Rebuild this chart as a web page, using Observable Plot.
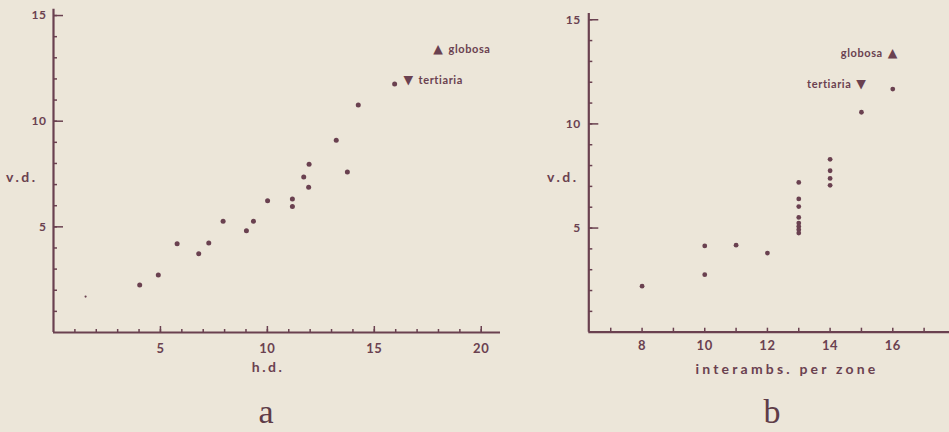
<!DOCTYPE html>
<html>
<head>
<meta charset="utf-8">
<script src="https://cdn.jsdelivr.net/npm/d3@7"></script>
<script src="https://cdn.jsdelivr.net/npm/@observablehq/plot@0.6"></script>
<style>
  html, body { margin: 0; padding: 0; background: #ece6d9; }
  #wrap { position: relative; width: 949px; height: 432px; overflow: hidden; background: #ece6d9; }
  .panel { position: absolute; top: 0; }
  .lab { position: absolute; color: #6a4150; font-family: Lato, "DejaVu Sans", sans-serif; font-weight: 700; white-space: nowrap; }
  .plab { position: absolute; color: #5e3c48; font-family: "Liberation Serif", "DejaVu Serif", serif; font-size: 34px; line-height: 1; }
</style>
</head>
<body>
<div id="wrap">
  <div id="pa" class="panel" style="left:0px"></div>
  <div id="pb" class="panel" style="left:500px"></div>
  <div class="lab" style="left:6px; top:168px; font-size:14px; letter-spacing:2.5px;">v.d.</div>
  <div class="lab" style="left:547px; top:168px; font-size:14px; letter-spacing:2.5px;">v.d.</div>
  <div class="lab" style="left:268px; top:358px; font-size:14px; letter-spacing:2.5px; transform:translateX(-50%);">h.d.</div>
  <div class="lab" style="left:787px; top:360px; font-size:14px; letter-spacing:3.2px; transform:translateX(-50%);">interambs. per zone</div>
  <div class="plab" style="left:266px; top:395px; transform:translateX(-50%);">a</div>
  <div class="plab" style="left:772px; top:395px; transform:translateX(-50%);">b</div>
</div>
<script>
// ---- data ----
// panel a: horizontal diameter (h.d.) vs vertical diameter (v.d.)
const hdA = [1.5, 4.03, 4.9, 5.78, 6.79, 7.26, 7.93, 9.02, 9.35, 10.01, 11.17, 11.17, 11.7, 11.95, 11.93, 13.22, 13.74, 14.25, 15.95];
const vdA = [1.7, 2.25, 2.72, 4.2, 3.73, 4.23, 5.27, 4.81, 5.27, 6.23, 6.32, 5.96, 7.36, 7.96, 6.87, 9.1, 7.59, 10.77, 11.76];
const smallA = [true, false, false, false, false, false, false, false, false, false, false, false, false, false, false, false, false, false, false];
// panel b: interambulacra per zone vs v.d.
const interB = [8, 10, 10, 11, 12, 13, 13, 13, 13, 13, 13, 13, 13, 14, 14, 14, 14, 15, 16];
const vdB = [2.21, 4.14, 2.76, 4.18, 3.8, 7.19, 6.4, 6.03, 5.51, 5.24, 5.08, 4.92, 4.76, 8.3, 7.75, 7.38, 7.05, 10.56, 11.67];
// named species
const speciesNames = ["globosa", "tertiaria"];
const speciesGlyph = ["▲", "▼"];
const speciesHd = [18.0, 16.6];
const speciesVdA = [13.4, 11.93];
const speciesInter = [16, 15];
const speciesVdB = [13.38, 11.9];
// ticks
const xTicksA = [5, 10, 15, 20];
const yTicks = [5, 10, 15];
const xTicksB = [8, 10, 12, 14, 16];

const ink = "#6a4150";
const font = "Lato, 'DejaVu Sans', sans-serif";

const ptsA = hdA.map((x, i) => ({x, y: vdA[i], small: smallA[i]}));
const ptsB = interB.map((x, i) => ({x, y: vdB[i]}));
const spA = speciesNames.map((n, i) => ({name: n, glyph: speciesGlyph[i], x: speciesHd[i], y: speciesVdA[i]}));
const spB = speciesNames.map((n, i) => ({name: n, glyph: speciesGlyph[i], x: speciesInter[i], y: speciesVdB[i]}));

const common = {
  style: {background: "transparent", color: ink, fontFamily: font, fontWeight: 700, fontSize: "12px", overflow: "visible"}
};

const plotA = Plot.plot({
  ...common,
  width: 500, height: 432,
  marginLeft: 53, marginRight: 0, marginTop: 8.7, marginBottom: 100,
  x: {domain: [0, 20.9]},
  y: {domain: [0, 15.3]},
  marks: [
    Plot.axisY({ticks: d3.range(1, 16), tickSize: -4, text: null, label: null, stroke: ink, strokeWidth: 1.5}),
    Plot.axisY({ticks: yTicks, tickSize: -10, tickPadding: 17, stroke: ink, strokeWidth: 1.5, fill: ink, label: null, fontSize: 12}),
    Plot.axisX({ticks: d3.range(1, 21), tickSize: -3, text: null, label: null, stroke: ink, strokeWidth: 1.5}),
    Plot.axisX({ticks: xTicksA, tickSize: -6, tickPadding: 17, stroke: ink, strokeWidth: 1.5, fill: ink, label: null, fontSize: 13}),
    Plot.ruleX([0], {stroke: ink, strokeWidth: 2.2}),
    Plot.ruleY([0], {stroke: ink, strokeWidth: 2.2}),
    Plot.dot(ptsA, {filter: (d) => !d.small, x: "x", y: "y", r: 2.5, fill: ink, stroke: null}),
    Plot.dot(ptsA, {filter: (d) => d.small, x: "x", y: "y", r: 1.1, fill: ink, stroke: null}),
    Plot.text(spA, {x: "x", y: "y", text: "glyph", fill: ink, fontSize: 12.5, fontFamily: "'DejaVu Sans', sans-serif"}),
    Plot.text(spA, {x: "x", y: "y", text: "name", fill: ink, textAnchor: "start", dx: 10, fontSize: 11, fontWeight: 700})
  ]
});
plotA.style.letterSpacing = "0.6px";
document.getElementById("pa").appendChild(plotA);

const plotB = Plot.plot({
  ...common,
  width: 449, height: 432,
  marginLeft: 88.3, marginRight: 0, marginTop: 13, marginBottom: 100.3,
  x: {domain: [6.3, 17.81]},
  y: {domain: [0, 15.3]},
  marks: [
    Plot.axisY({ticks: d3.range(1, 16), tickSize: -4, text: null, label: null, stroke: ink, strokeWidth: 1.5}),
    Plot.axisY({ticks: yTicks, tickSize: -10, tickPadding: 18, stroke: ink, strokeWidth: 1.5, fill: ink, label: null, fontSize: 12}),
    Plot.axisX({ticks: d3.range(7, 18), tickSize: -4, text: null, label: null, stroke: ink, strokeWidth: 1.5}),
    Plot.axisX({ticks: xTicksB, tickSize: 0, tickPadding: 9, fill: ink, label: null, fontSize: 13}),
    Plot.ruleX([6.3], {stroke: ink, strokeWidth: 2.2}),
    Plot.ruleY([0], {stroke: ink, strokeWidth: 2.2}),
    Plot.dot(ptsB, {x: "x", y: "y", r: 2.4, fill: ink, stroke: null}),
    Plot.text(spB, {x: "x", y: "y", text: "glyph", fill: ink, fontSize: 12.5, fontFamily: "'DejaVu Sans', sans-serif"}),
    Plot.text(spB, {x: "x", y: "y", text: "name", fill: ink, textAnchor: "end", dx: -10, fontSize: 11, fontWeight: 700})
  ]
});
plotB.style.letterSpacing = "0.6px";
document.getElementById("pb").appendChild(plotB);
</script>
</body>
</html>
